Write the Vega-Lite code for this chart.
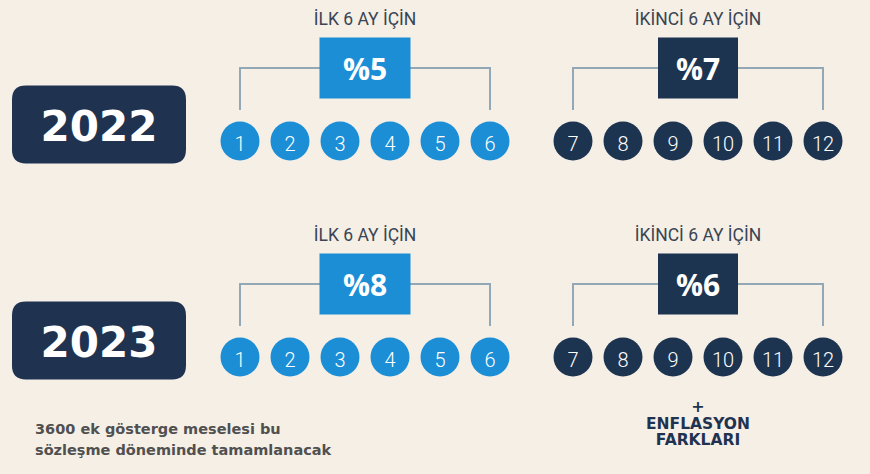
{
  "$schema": "https://vega.github.io/schema/vega-lite/v6.json",
  "background": "#f5efe6",
  "padding": {"left": 0, "top": 0, "right": 6, "bottom": 0},
  "spacing": 0,
  "bounds": "flush",
  "config": {"view": {"stroke": null}},
  "datasets": {
    "yillar": [{"yil": 2022}, {"yil": 2023}],
    "aylar": [
      {"yil": 2022, "ay": 1, "donem": "ilk"}, {"yil": 2022, "ay": 2, "donem": "ilk"}, {"yil": 2022, "ay": 3, "donem": "ilk"},
      {"yil": 2022, "ay": 4, "donem": "ilk"}, {"yil": 2022, "ay": 5, "donem": "ilk"}, {"yil": 2022, "ay": 6, "donem": "ilk"},
      {"yil": 2022, "ay": 7, "donem": "ikinci"}, {"yil": 2022, "ay": 8, "donem": "ikinci"}, {"yil": 2022, "ay": 9, "donem": "ikinci"},
      {"yil": 2022, "ay": 10, "donem": "ikinci"}, {"yil": 2022, "ay": 11, "donem": "ikinci"}, {"yil": 2022, "ay": 12, "donem": "ikinci"},
      {"yil": 2023, "ay": 1, "donem": "ilk"}, {"yil": 2023, "ay": 2, "donem": "ilk"}, {"yil": 2023, "ay": 3, "donem": "ilk"},
      {"yil": 2023, "ay": 4, "donem": "ilk"}, {"yil": 2023, "ay": 5, "donem": "ilk"}, {"yil": 2023, "ay": 6, "donem": "ilk"},
      {"yil": 2023, "ay": 7, "donem": "ikinci"}, {"yil": 2023, "ay": 8, "donem": "ikinci"}, {"yil": 2023, "ay": 9, "donem": "ikinci"},
      {"yil": 2023, "ay": 10, "donem": "ikinci"}, {"yil": 2023, "ay": 11, "donem": "ikinci"}, {"yil": 2023, "ay": 12, "donem": "ikinci"}
    ],
    "oranlar": [
      {"yil": 2022, "donem": "ilk", "oran": "%5", "baslik": "İLK 6 AY İÇİN"},
      {"yil": 2022, "donem": "ikinci", "oran": "%7", "baslik": "İKİNCİ 6 AY İÇİN"},
      {"yil": 2023, "donem": "ilk", "oran": "%8", "baslik": "İLK 6 AY İÇİN"},
      {"yil": 2023, "donem": "ikinci", "oran": "%6", "baslik": "İKİNCİ 6 AY İÇİN"}
    ],
    "notlar": [
      {"yil": 2023, "donem": "genel", "isaret": "", "not": "3600 ek gösterge meselesi bu\nsözleşme döneminde tamamlanacak"},
      {"yil": 2023, "donem": "ikinci", "isaret": "+", "not": "ENFLASYON\nFARKLARI"}
    ]
  },
  "hconcat": [
    {
      "width": 198,
      "height": 474,
      "layer": [
        {
          "data": {"name": "yillar"},
          "mark": {"type": "point", "shape": "M-0.84,-0.448L0.84,-0.448Q1,-0.448,1,-0.288L1,0.288Q1,0.448,0.84,0.448L-0.84,0.448Q-1,0.448,-1,0.288L-1,-0.288Q-1,-0.448,-0.84,-0.448Z", "size": 30276, "filled": true, "opacity": 1, "color": "#1f3350", "strokeWidth": 0, "yOffset": -16.5},
          "encoding": {"y": {"field": "yil", "type": "ordinal", "scale": {"type": "point", "domain": [2022, 2023], "padding": 0.5972, "align": 0.5465}, "axis": null}}
        },
        {
          "data": {"name": "yillar"},
          "mark": {"type": "text", "font": "DejaVu Sans", "fontWeight": "bold", "fontSize": 42, "color": "#ffffff", "baseline": "middle", "yOffset": -12.5},
          "encoding": {
            "y": {"field": "yil", "type": "ordinal", "scale": {"type": "point", "domain": [2022, 2023], "padding": 0.5972, "align": 0.5465}, "axis": null},
            "text": {"field": "yil", "type": "nominal"}
          }
        },
        {
          "data": {"name": "notlar"},
          "transform": [{"filter": "datum.donem == 'genel'"}],
          "mark": {"type": "text", "align": "left", "baseline": "alphabetic", "dx": -64, "yOffset": 77, "lineBreak": "\n", "lineHeight": 21, "font": "DejaVu Sans", "fontWeight": "bold", "fontSize": 14.5, "color": "#505050"},
          "encoding": {
            "y": {"field": "yil", "type": "ordinal", "scale": {"type": "point", "domain": [2022, 2023], "padding": 0.5972, "align": 0.5465}, "axis": null},
            "text": {"field": "not", "type": "nominal"}
          }
        }
      ]
    },
    {
      "width": 334,
      "height": 474,
      "layer": [
        {
          "data": {"name": "aylar"},
          "transform": [{"filter": "datum.donem == 'ilk'"}],
          "mark": {"type": "rule", "yOffset": -73, "color": "#93a8b6", "strokeWidth": 2},
          "encoding": {
            "x": {"aggregate": "min", "field": "ay", "type": "quantitative", "scale": {"domain": [0.16, 6.84], "nice": false, "zero": false}, "axis": null},
            "x2": {"aggregate": "max", "field": "ay"},
            "y": {"field": "yil", "type": "ordinal", "scale": {"type": "point", "domain": [2022, 2023], "padding": 0.5972, "align": 0.5465}, "axis": null}
          }
        },
        {
          "data": {"name": "aylar"},
          "transform": [{"filter": "datum.donem == 'ilk' && (datum.ay == 1 || datum.ay == 6)"}],
          "mark": {"type": "rule", "yOffset": -74, "y2Offset": -31, "color": "#93a8b6", "strokeWidth": 2},
          "encoding": {
            "x": {"field": "ay", "type": "quantitative", "scale": {"domain": [0.16, 6.84], "nice": false, "zero": false}, "axis": null},
            "y": {"field": "yil", "type": "ordinal", "scale": {"type": "point", "domain": [2022, 2023], "padding": 0.5972, "align": 0.5465}, "axis": null},
            "y2": {"field": "yil"}
          }
        },
        {
          "data": {"name": "oranlar"},
          "transform": [{"filter": "datum.donem == 'ilk'"}],
          "mark": {"type": "point", "shape": "M-1,-0.67L1,-0.67L1,0.67L-1,0.67Z", "size": 8281, "filled": true, "opacity": 1, "color": "#1b8ed6", "strokeWidth": 0, "yOffset": -73},
          "encoding": {"y": {"field": "yil", "type": "ordinal", "scale": {"type": "point", "domain": [2022, 2023], "padding": 0.5972, "align": 0.5465}, "axis": null}}
        },
        {
          "data": {"name": "oranlar"},
          "transform": [{"filter": "datum.donem == 'ilk'"}],
          "mark": {"type": "text", "font": "Open Sans", "fontWeight": "bold", "fontSize": 30, "color": "#ffffff", "baseline": "middle", "yOffset": -69.5},
          "encoding": {
            "y": {"field": "yil", "type": "ordinal", "scale": {"type": "point", "domain": [2022, 2023], "padding": 0.5972, "align": 0.5465}, "axis": null},
            "text": {"field": "oran", "type": "nominal"}
          }
        },
        {
          "data": {"name": "oranlar"},
          "transform": [{"filter": "datum.donem == 'ilk'"}],
          "mark": {"type": "text", "font": "Roboto", "fontSize": 17.5, "color": "#3a4554", "baseline": "middle", "yOffset": -121},
          "encoding": {
            "y": {"field": "yil", "type": "ordinal", "scale": {"type": "point", "domain": [2022, 2023], "padding": 0.5972, "align": 0.5465}, "axis": null},
            "text": {"field": "baslik", "type": "nominal"}
          }
        },
        {
          "data": {"name": "aylar"},
          "transform": [{"filter": "datum.donem == 'ilk'"}],
          "mark": {"type": "point", "shape": "circle", "size": 1520, "filled": true, "opacity": 1, "color": "#1b8ed6", "strokeWidth": 0},
          "encoding": {
            "x": {"field": "ay", "type": "quantitative", "scale": {"domain": [0.16, 6.84], "nice": false, "zero": false}, "axis": null},
            "y": {"field": "yil", "type": "ordinal", "scale": {"type": "point", "domain": [2022, 2023], "padding": 0.5972, "align": 0.5465}, "axis": null}
          }
        },
        {
          "data": {"name": "aylar"},
          "transform": [{"filter": "datum.donem == 'ilk'"}],
          "mark": {"type": "text", "font": "Roboto", "fontWeight": 300, "fontSize": 20, "color": "#ffffff", "baseline": "middle", "yOffset": 4},
          "encoding": {
            "x": {"field": "ay", "type": "quantitative", "scale": {"domain": [0.16, 6.84], "nice": false, "zero": false}, "axis": null},
            "y": {"field": "yil", "type": "ordinal", "scale": {"type": "point", "domain": [2022, 2023], "padding": 0.5972, "align": 0.5465}, "axis": null},
            "text": {"field": "ay", "type": "nominal"}
          }
        }
      ]
    },
    {
      "width": 332,
      "height": 474,
      "layer": [
        {
          "data": {"name": "aylar"},
          "transform": [{"filter": "datum.donem == 'ikinci'"}],
          "mark": {"type": "rule", "yOffset": -73, "color": "#93a8b6", "strokeWidth": 2},
          "encoding": {
            "x": {"aggregate": "min", "field": "ay", "type": "quantitative", "scale": {"domain": [6.18, 12.82], "nice": false, "zero": false}, "axis": null},
            "x2": {"aggregate": "max", "field": "ay"},
            "y": {"field": "yil", "type": "ordinal", "scale": {"type": "point", "domain": [2022, 2023], "padding": 0.5972, "align": 0.5465}, "axis": null}
          }
        },
        {
          "data": {"name": "aylar"},
          "transform": [{"filter": "datum.donem == 'ikinci' && (datum.ay == 7 || datum.ay == 12)"}],
          "mark": {"type": "rule", "yOffset": -74, "y2Offset": -31, "color": "#93a8b6", "strokeWidth": 2},
          "encoding": {
            "x": {"field": "ay", "type": "quantitative", "scale": {"domain": [6.18, 12.82], "nice": false, "zero": false}, "axis": null},
            "y": {"field": "yil", "type": "ordinal", "scale": {"type": "point", "domain": [2022, 2023], "padding": 0.5972, "align": 0.5465}, "axis": null},
            "y2": {"field": "yil"}
          }
        },
        {
          "data": {"name": "oranlar"},
          "transform": [{"filter": "datum.donem == 'ikinci'"}],
          "mark": {"type": "point", "shape": "M-1,-0.7625L1,-0.7625L1,0.7625L-1,0.7625Z", "size": 6400, "filled": true, "opacity": 1, "color": "#1d3451", "strokeWidth": 0, "yOffset": -73},
          "encoding": {"y": {"field": "yil", "type": "ordinal", "scale": {"type": "point", "domain": [2022, 2023], "padding": 0.5972, "align": 0.5465}, "axis": null}}
        },
        {
          "data": {"name": "oranlar"},
          "transform": [{"filter": "datum.donem == 'ikinci'"}],
          "mark": {"type": "text", "font": "Open Sans", "fontWeight": "bold", "fontSize": 30, "color": "#ffffff", "baseline": "middle", "yOffset": -69.5},
          "encoding": {
            "y": {"field": "yil", "type": "ordinal", "scale": {"type": "point", "domain": [2022, 2023], "padding": 0.5972, "align": 0.5465}, "axis": null},
            "text": {"field": "oran", "type": "nominal"}
          }
        },
        {
          "data": {"name": "oranlar"},
          "transform": [{"filter": "datum.donem == 'ikinci'"}],
          "mark": {"type": "text", "font": "Roboto", "fontSize": 17.5, "color": "#3a4554", "baseline": "middle", "yOffset": -121},
          "encoding": {
            "y": {"field": "yil", "type": "ordinal", "scale": {"type": "point", "domain": [2022, 2023], "padding": 0.5972, "align": 0.5465}, "axis": null},
            "text": {"field": "baslik", "type": "nominal"}
          }
        },
        {
          "data": {"name": "aylar"},
          "transform": [{"filter": "datum.donem == 'ikinci'"}],
          "mark": {"type": "point", "shape": "circle", "size": 1520, "filled": true, "opacity": 1, "color": "#1d3451", "strokeWidth": 0},
          "encoding": {
            "x": {"field": "ay", "type": "quantitative", "scale": {"domain": [6.18, 12.82], "nice": false, "zero": false}, "axis": null},
            "y": {"field": "yil", "type": "ordinal", "scale": {"type": "point", "domain": [2022, 2023], "padding": 0.5972, "align": 0.5465}, "axis": null}
          }
        },
        {
          "data": {"name": "aylar"},
          "transform": [{"filter": "datum.donem == 'ikinci'"}],
          "mark": {"type": "text", "font": "Roboto", "fontWeight": 300, "fontSize": 20, "color": "#ffffff", "baseline": "middle", "yOffset": 4},
          "encoding": {
            "x": {"field": "ay", "type": "quantitative", "scale": {"domain": [6.18, 12.82], "nice": false, "zero": false}, "axis": null},
            "y": {"field": "yil", "type": "ordinal", "scale": {"type": "point", "domain": [2022, 2023], "padding": 0.5972, "align": 0.5465}, "axis": null},
            "text": {"field": "ay", "type": "nominal"}
          }
        },
        {
          "data": {"name": "notlar"},
          "transform": [{"filter": "datum.donem == 'ikinci'"}],
          "mark": {"type": "text", "font": "DejaVu Sans", "fontWeight": "bold", "fontSize": 16, "color": "#1f3350", "baseline": "middle", "yOffset": 50},
          "encoding": {
            "y": {"field": "yil", "type": "ordinal", "scale": {"type": "point", "domain": [2022, 2023], "padding": 0.5972, "align": 0.5465}, "axis": null},
            "text": {"field": "isaret", "type": "nominal"}
          }
        },
        {
          "data": {"name": "notlar"},
          "transform": [{"filter": "datum.donem == 'ikinci'"}],
          "mark": {"type": "text", "font": "DejaVu Sans", "fontWeight": "bold", "fontSize": 15.5, "color": "#1f3350", "baseline": "alphabetic", "lineBreak": "\n", "lineHeight": 16.5, "yOffset": 72},
          "encoding": {
            "y": {"field": "yil", "type": "ordinal", "scale": {"type": "point", "domain": [2022, 2023], "padding": 0.5972, "align": 0.5465}, "axis": null},
            "text": {"field": "not", "type": "nominal"}
          }
        }
      ]
    }
  ]
}
